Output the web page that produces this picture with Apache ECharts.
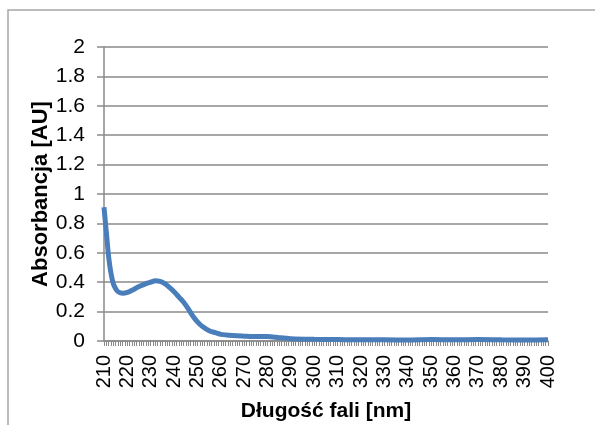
<!DOCTYPE html>
<html>
<head>
<meta charset="UTF-8">
<title>Absorbancja</title>
<script src="https://cdn.jsdelivr.net/npm/echarts@6/dist/echarts.min.js"></script>
<style>
  html, body { margin: 0; padding: 0; background: #fff; }
  #chart { width: 595px; height: 425px; }
</style>
</head>
<body>
<div id="chart"></div>
<script>
// dane
var wavelengths = [210, 211, 212, 213, 214, 215, 216, 218, 220, 222, 225, 228, 230, 232, 234, 236, 238,
  240, 242, 244, 246, 248, 250, 252, 255, 258, 260, 265, 270, 275, 280, 285, 290, 300, 310,
  320, 330, 340, 350, 360, 370, 380, 390, 400];
var absorbance = [0.91, 0.74, 0.57, 0.46, 0.39, 0.355, 0.335, 0.325, 0.33, 0.345, 0.37, 0.39, 0.40, 0.41, 0.405, 0.39, 0.365,
  0.335, 0.30, 0.265, 0.22, 0.17, 0.13, 0.10, 0.07, 0.055, 0.045, 0.037, 0.033, 0.03, 0.03, 0.022, 0.016, 0.012, 0.01,
  0.008, 0.008, 0.007, 0.01, 0.008, 0.01, 0.008, 0.007, 0.008];
var xTitle = 'Długość fali [nm]';
var yTitle = 'Absorbancja [AU]';

var points = wavelengths.map(function (w, i) { return [w, absorbance[i]]; });
var gray = '#8a8a8a';
var font = 'Liberation Sans, Arial, sans-serif';

var chart = echarts.init(document.getElementById('chart'));
var option = {
  animation: false,
  graphic: [{
    type: 'rect',
    shape: { x: 8, y: 10, width: 620, height: 440 },
    style: { fill: null, stroke: '#a6a6a6', lineWidth: 1.5 },
    silent: true
  }],
  grid: { left: 104, right: 47, top: 47, bottom: 84, outerBoundsMode: 'none', containLabel: false },
  xAxis: {
    type: 'value',
    min: 210,
    max: 400,
    interval: 10,
    name: xTitle,
    nameLocation: 'middle',
    nameGap: 60,
    nameTextStyle: { fontFamily: font, fontSize: 21, fontWeight: 'bold', color: '#000' },
    axisLine: { show: true, lineStyle: { color: gray, width: 1.5 } },
    axisTick: { show: true, length: 5, lineStyle: { color: gray } },
    minorTick: { show: true, splitNumber: 10, length: 5, lineStyle: { color: gray } },
    axisLabel: { rotate: 90, margin: 14, fontFamily: font, fontSize: 20, color: '#000' },
    splitLine: { show: false }
  },
  yAxis: {
    type: 'value',
    min: 0,
    max: 2,
    interval: 0.2,
    name: yTitle,
    nameLocation: 'middle',
    nameGap: 52,
    nameMoveOverlap: false,
    nameTextStyle: { fontFamily: font, fontSize: 22, fontWeight: 'bold', color: '#000' },
    axisLine: { show: true, lineStyle: { color: gray, width: 1.5 } },
    axisTick: { show: true, length: 7, lineStyle: { color: gray, width: 1.5 } },
    axisLabel: { margin: 19, fontFamily: font, fontSize: 21, color: '#000' },
    splitLine: { show: true, lineStyle: { color: gray, width: 1.5 } }
  },
  series: [{
    type: 'line',
    data: points,
    smooth: 0.3,
    showSymbol: false,
    lineStyle: { color: '#4a7ebb', width: 5 }
  }]
};
chart.setOption(option);
</script>
</body>
</html>
